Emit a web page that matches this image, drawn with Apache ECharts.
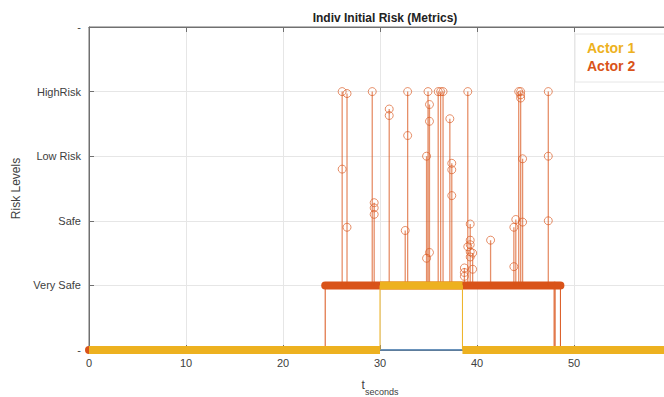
<!DOCTYPE html>
<html><head><meta charset="utf-8">
<script src="https://cdn.jsdelivr.net/npm/echarts@6/dist/echarts.min.js"></script>
<style>html,body{margin:0;padding:0;background:#fff}#c{width:664px;height:397px}</style>
</head><body><div id="c"></div>
<script>
// Y levels (tick labels)
const levelLabels = ['-', 'Very Safe', 'Safe', 'Low Risk', 'HighRisk', '-'];
// step paths [t, level]
const actor1Path = [[0,0],[30,0],[30,1],[38.5,1],[38.5,0],[60,0]];
const actor2Path = [[0,0],[24.35,0],[24.35,1],[47.95,1],[47.95,0],[48.05,0],[48.05,1],[48.6,1],[48.6,0],[60,0]];
const hiddenPath = [[0,0],[60,0]];
// Actor 2 short excursions from Very Safe: times and sampled values
const spikeTimes = [26.1, 26.6, 29.2, 29.4, 30.95, 32.6, 32.85, 34.8, 34.95, 35.1, 36.0, 36.25, 36.5, 37.2, 37.4, 38.7, 39.05, 39.3, 39.55, 41.4, 43.8, 44.0, 44.3, 44.5, 44.7, 47.35];
const spikeValues = [
  [2.8, 4.0],
  [3.97, 1.9],
  [4.0],
  [2.28, 2.2, 2.1],
  [3.73, 3.63],
  [1.85],
  [3.32, 4.0],
  [3.0, 1.42],
  [4.0],
  [3.8, 3.54, 1.51],
  [4.0],
  [4.0],
  [4.0],
  [3.58],
  [2.89, 2.79, 2.39],
  [1.27, 1.2, 1.14],
  [4.0, 1.6],
  [1.95, 1.7, 1.63, 1.52, 1.44],
  [1.5, 1.25],
  [1.7],
  [1.9, 1.29],
  [2.02],
  [4.0],
  [4.0, 3.95, 3.9],
  [2.96, 1.98],
  [4.0, 3.0, 2.0]
];

const C1 = '#EDB120', C2 = '#D95319', C0 = '#4f86bd';
const FONT = 'Liberation Sans, Arial, sans-serif';

function bandData(path) {
  const out = [];
  for (let i = 0; i < path.length - 1; i++) {
    const a = path[i], b = path[i + 1];
    if (a[1] === b[1] && b[0] > a[0]) {
      out.push([a[0], a[1]], [b[0], b[1]], [b[0], '-']);
    }
  }
  return out;
}
function spikeData() {
  const out = [];
  spikeTimes.forEach((t, i) => {
    out.push({ value: [t, 1], symbol: 'none' });
    spikeValues[i].forEach(v => out.push([t, v]));
    out.push({ value: [t, 1], symbol: 'none' });
    out.push([t, '-']);
  });
  return out;
}

const chart = echarts.init(document.getElementById('c'), null, { renderer: 'svg' });
chart.setOption({
  animation: false,
  backgroundColor: '#fff',
  title: {
    text: 'Indiv Initial Risk (Metrics)',
    left: 380, top: 7, textAlign: 'center',
    textStyle: { fontFamily: FONT, fontSize: 12, fontWeight: 'bold', color: '#222' }
  },
  legend: {
    orient: 'vertical', left: 575, top: 34,
    padding: [7, 40, 9, 7], itemGap: 4,
    icon: 'none', itemWidth: 0, itemHeight: 0,
    backgroundColor: '#fff', borderColor: '#e6e6e6', borderWidth: 1,
    textStyle: { fontFamily: FONT, fontSize: 14, fontWeight: 'bold' },
    data: [
      { name: 'Actor 1', textStyle: { color: C1 } },
      { name: 'Actor 2', textStyle: { color: C2 } }
    ],
    selectedMode: false
  },
  grid: { left: 89, right: -7, top: 27, bottom: 47, show: true, borderColor: '#707070', borderWidth: 1,
    outerBoundsMode: 'none', containLabel: false },
  xAxis: [{
    type: 'value', min: 0, max: 60, interval: 10,
    axisLine: { show: true, onZero: false, lineStyle: { color: '#707070' } },
    axisTick: { show: true, inside: true, length: 5, lineStyle: { color: '#707070' } },
    axisLabel: { fontFamily: FONT, fontSize: 11, color: '#404040', margin: 7, showMaxLabel: false },
    splitLine: { show: true, lineStyle: { color: '#e6e6e6' } },
    name: '{t|t}{s|seconds}', nameLocation: 'middle', nameGap: 29,
    nameTextStyle: {
      fontFamily: FONT, color: '#404040',
      rich: {
        t: { fontFamily: FONT, fontSize: 12, color: '#404040', verticalAlign: 'top', lineHeight: 17 },
        s: { fontFamily: FONT, fontSize: 9, color: '#404040', verticalAlign: 'bottom', lineHeight: 17 }
      }
    }
  }, {
    type: 'value', min: 0, max: 60, interval: 10, position: 'top',
    axisLine: { show: true, onZero: false, lineStyle: { color: '#707070' } },
    axisTick: { show: true, inside: true, length: 5, lineStyle: { color: '#707070' } },
    axisLabel: { show: false }, splitLine: { show: false }
  }],
  yAxis: {
    type: 'value', min: 0, max: 5, interval: 1,
    axisLine: { show: true, onZero: false, lineStyle: { color: '#707070' } },
    axisTick: { show: true, inside: true, length: 5, lineStyle: { color: '#707070' } },
    axisLabel: { fontFamily: FONT, fontSize: 11, color: '#404040', margin: 8,
      formatter: v => levelLabels[Math.round(v)] },
    splitLine: { show: true, lineStyle: { color: '#e6e6e6' } },
    name: 'Risk Levels', nameLocation: 'middle', nameRotate: 90, nameGap: 62,
    nameTextStyle: { fontFamily: FONT, fontSize: 12, color: '#404040' }
  },
  series: [
    { type: 'line', name: 'base', data: hiddenPath, showSymbol: false, silent: true,
      lineStyle: { color: C0, width: 1.5 }, itemStyle: { color: C0 }, z: 1 },
    { type: 'line', name: 'Actor 2', data: actor2Path, showSymbol: false,
      lineStyle: { color: C2, width: 1 }, itemStyle: { color: C2 }, z: 2 },
    { type: 'line', name: 'Actor 2', data: bandData(actor2Path), showSymbol: false, connectNulls: false,
      lineStyle: { color: C2, width: 8, cap: 'round' }, itemStyle: { color: C2 }, z: 3 },
    { type: 'line', name: 'Actor 2', data: spikeData(), connectNulls: false,
      symbol: 'circle', symbolSize: 8, showSymbol: true, showAllSymbol: true,
      lineStyle: { color: 'rgba(217,83,25,0.65)', width: 1.3 },
      itemStyle: { color: 'rgba(255,255,255,0)', borderColor: 'rgba(217,83,25,0.65)', borderWidth: 1 }, z: 4 },
    { type: 'line', name: 'Actor 1', data: actor1Path, showSymbol: false,
      lineStyle: { color: C1, width: 1 }, itemStyle: { color: C1 }, z: 5 },
    { type: 'line', name: 'Actor 1', data: bandData(actor1Path), showSymbol: false, connectNulls: false,
      lineStyle: { color: C1, width: 8, cap: 'butt' }, itemStyle: { color: C1 }, z: 6 }
  ]
});
</script>
</body></html>
